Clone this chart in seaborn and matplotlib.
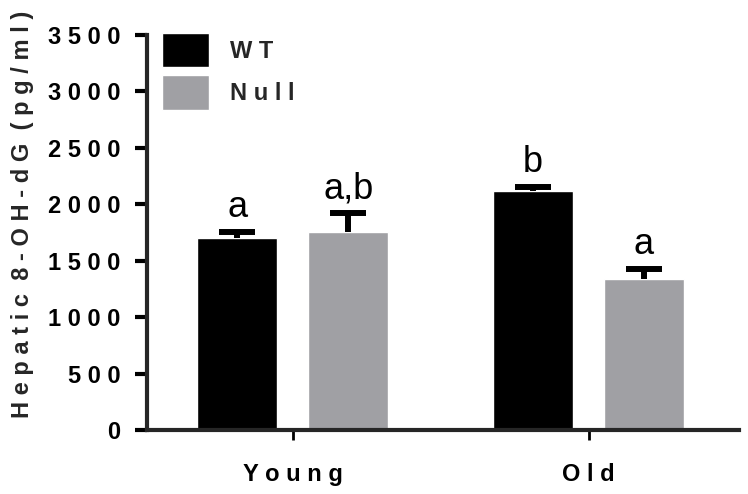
import matplotlib
matplotlib.use("Agg")
import matplotlib.pyplot as plt
import seaborn as sns
import pandas as pd
import numpy as np

ages = ["Young", "Old"]
genotypes = ["WT", "Null"]
means_wt = [1700, 2120]
means_null = [1750, 1338]
sem_wt = [57, 35]
sem_null = [172, 90]
letters_wt = ["a", "b"]
letters_null = ["a,b", "a"]
yticks = [0, 500, 1000, 1500, 2000, 2500, 3000, 3500]

sns.set_theme(style="ticks")
plt.rcParams['font.family'] = ['Liberation Sans', 'DejaVu Sans']

def spaced(s):
    return " ".join(list(s))

df = pd.DataFrame({
    "age": ages * 2,
    "genotype": [genotypes[0]] * 2 + [genotypes[1]] * 2,
    "value": means_wt + means_null,
})

fig = plt.figure(figsize=(7.48, 4.94), dpi=100)
ax = fig.add_axes([0.1965, 0.1296, 0.792, 0.7996])

palette = {"WT": "#000000", "Null": "#A0A0A4"}
sns.barplot(data=df, x="age", y="value", hue="genotype", order=ages,
            hue_order=genotypes, palette=palette, width=0.75, gap=0.28,
            errorbar=None, saturation=1, ax=ax, legend=True)

bars = [p for p in ax.patches if p.get_height() > 0]
bars_sorted = sorted(bars, key=lambda p: p.get_x())
order_vals = [(means_wt[0], sem_wt[0], letters_wt[0]),
              (means_null[0], sem_null[0], letters_null[0]),
              (means_wt[1], sem_wt[1], letters_wt[1]),
              (means_null[1], sem_null[1], letters_null[1])]
for p, (m, e, lab) in zip(bars_sorted, order_vals):
    xc = p.get_x() + p.get_width() / 2
    cont = ax.errorbar(xc, m, yerr=[[0], [e]], fmt="none", ecolor="black",
                       elinewidth=4.3, capsize=13, capthick=4.3, zorder=1.5)
    caplines = cont.lines[1]
    if len(caplines) == 2:
        caplines[0].set_visible(False)
    ax.annotate(lab, xy=(xc, m + e), xytext=(0, 5), textcoords="offset points",
                ha="center", va="bottom", fontsize=26, color="black")

ax.set_ylim(0, 3500)
ax.set_xlim(-0.493, 1.51)
ax.set_yticks(yticks)
ax.set_yticklabels([spaced(str(v)) for v in yticks], fontsize=17, fontweight="bold")
ax.set_xticks([0, 1])
ax.set_xticklabels([spaced(a) for a in ages], fontsize=17, fontweight="bold")
ax.set_xlabel("")
ax.set_ylabel(spaced("Hepatic") + "  " + spaced("8-OH-dG") + "  " + spaced("(pg/ml)"),
              fontsize=17, fontweight="bold")
ax.yaxis.set_label_coords(-0.19, 0.545)

sns.despine(ax=ax)
ax.spines["left"].set_linewidth(3)
ax.spines["bottom"].set_linewidth(3)
ax.tick_params(axis="y", length=9, width=3, pad=10, colors="black")
ax.tick_params(axis="x", length=7, width=2, pad=17, colors="black")

handles, labels = ax.get_legend_handles_labels()
leg = ax.legend(handles, [spaced(l) for l in labels], loc="upper left",
                bbox_to_anchor=(0.025, 1.005), frameon=False,
                prop={"weight": "bold", "size": 17},
                handlelength=2.0, handleheight=1.85, labelspacing=0.35,
                handletextpad=0.9, borderaxespad=0, borderpad=0)

fig.savefig("out.png", dpi=100)
